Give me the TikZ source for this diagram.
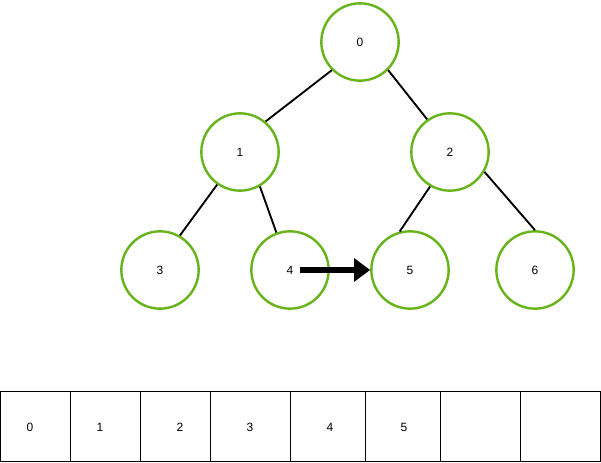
\documentclass[tikz,border=0pt]{standalone}
\usepackage{fontspec}
\setmainfont{Liberation Sans}
\usepackage{tikz}
\usetikzlibrary{arrows.meta}
\definecolor{heapgreen}{HTML}{66B31A}
\tikzset{
    heap-node/.style = {draw=heapgreen, fill=white, line width=1.8pt, circle, minimum size=58pt, inner sep=0pt, font=\small},
    heap-edge/.style = {draw=black, line width=1.4pt},
    cell/.style = {draw=black, line width=0.5pt, rectangle, minimum height=52.5pt, inner sep=0pt, anchor=south west},
}

\begin{document}
\begin{tikzpicture}[x=0.75pt, y=-0.75pt]
\useasboundingbox (0,0) rectangle (601,463);
% tree
\node [heap-node] (n0) at (360,42) {0};
\node [heap-node] (n1) at (240,152) {1};
\node [heap-node] (n2) at (450,152) {2};
\node [heap-node] (n3) at (160,270) {3};
\node [heap-node] (n4) at (290,270) {4};
\node [heap-node] (n5) at (410,270) {5};
\node [heap-node] (n6) at (535,270) {6};
\draw [heap-edge] (n0.225) -- (n1.50);
\draw [heap-edge] (n0.315) -- (n2.125);
\draw [heap-edge] (n1.235) -- (n3.60);
\draw [heap-edge] (n1.300) -- (n4.110);
\draw [heap-edge] (n2.240) -- (n5.105);
\draw [heap-edge] (n2.330) -- (n6.90);
\coordinate (arrow-start) at (300,270);
\draw [line width=4.5pt, -{Triangle[length=12pt, width=17pt]}] (arrow-start) -- (n5.west);
% array
\foreach \x/\w in {0/70, 70/70, 140/70, 210/80, 290/75, 365/75, 440/80, 520/80}
    \node [cell, minimum width=\w*0.75pt] at (\x,462) {};
\foreach \x/\t in {30/0, 100/1, 180/2, 250/3, 330/4, 404/5}
    \node [font=\small] (a\t) at (\x,427) {\t};
\end{tikzpicture}
\end{document}
